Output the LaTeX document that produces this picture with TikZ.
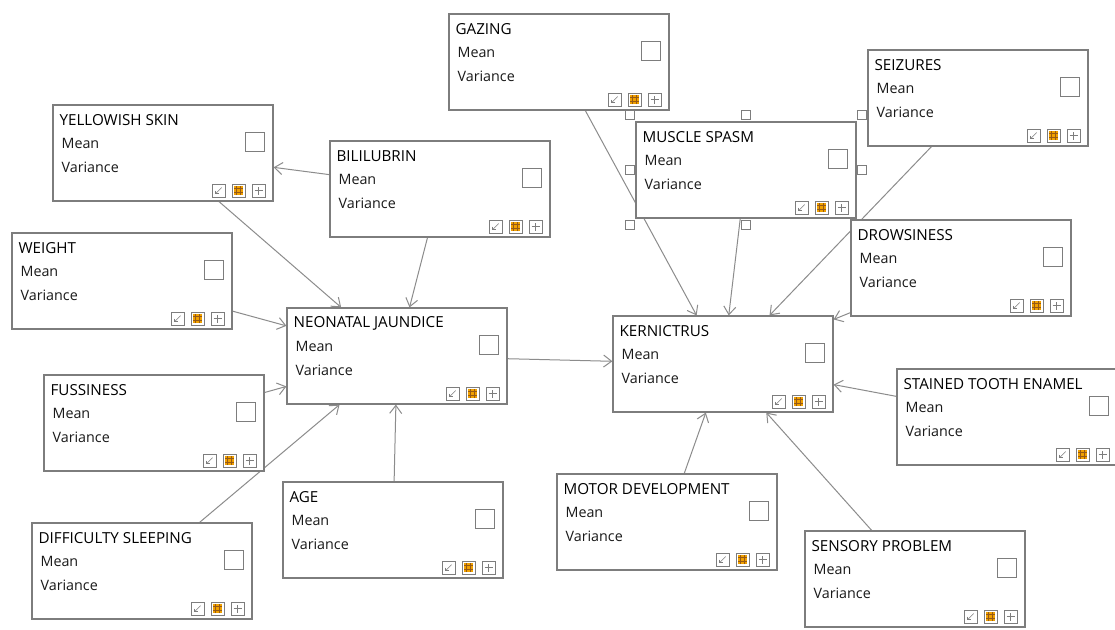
\documentclass[tikz,border=0pt]{standalone}
\usepackage{fontspec}
\setmainfont{Open Sans}
\usetikzlibrary{positioning, arrows.meta, calc, backgrounds}
\definecolor{cBox}{RGB}{125,125,125}
\definecolor{cLine}{RGB}{140,140,140}
\definecolor{cText}{RGB}{25,25,25}
\definecolor{cOrange}{RGB}{240,160,0}
\definecolor{cGrid}{RGB}{150,90,20}

\tikzset{
  varbox/.style={draw=cBox, line width=1.2pt, fill=white, rectangle,
    minimum width=220pt, minimum height=96pt, inner sep=0pt},
  vtitle/.style={anchor=west, inner sep=0pt, text=black,
    font=\fontsize{15.2}{17}\selectfont},
  vlabel/.style={anchor=west, inner sep=0pt, text=cText,
    font=\fontsize{14.3}{16}\selectfont},
  chkbox/.style={draw=cBox, line width=0.8pt, minimum size=19pt, inner sep=0pt},
  iconbox/.style={draw=cBox, line width=0.7pt, fill=white, minimum size=13pt, inner sep=0pt},
  handle/.style={draw=cBox, line width=0.7pt, fill=white, minimum size=9pt, inner sep=0pt},
  link/.style={draw=cLine, line width=1pt, -{Straight Barb[length=8pt,width=12pt]}}
}

% one variable box: name, left, top, title
\newcommand{\varnode}[4]{%
  \node[varbox] (#1) at (#2+110,#3+48) {};
  \node[vtitle] (#1-t) at ([xshift=7pt,yshift=-16pt]#1.north west) {#4};
  \node[vlabel] (#1-m) at ([xshift=9pt,yshift=-39pt]#1.north west) {Mean};
  \node[vlabel] (#1-v) at ([xshift=9pt,yshift=-63pt]#1.north west) {Variance};
  \node[chkbox] (#1-c) at ([xshift=-19pt,yshift=-37pt]#1.north east) {};
  % icons
  \node[iconbox] (#1-i1) at ([xshift=-55pt,yshift=11pt]#1.south east) {};
  \draw[cBox, line width=0.6pt] ([shift={(3pt,3pt)}]#1-i1.center) -- ([shift={(-3pt,-3pt)}]#1-i1.center);
  \draw[cBox, line width=0.6pt] ([shift={(-3pt,0pt)}]#1-i1.center) -- ([shift={(-3pt,-3pt)}]#1-i1.center) -- ([shift={(0pt,-3pt)}]#1-i1.center);
  \node[iconbox] (#1-i2) at ([xshift=-35pt,yshift=11pt]#1.south east) {};
  \fill[cOrange] ([shift={(-4.5pt,-4.5pt)}]#1-i2.center) rectangle ([shift={(4.5pt,4.5pt)}]#1-i2.center);
  \draw[cGrid, line width=0.5pt] ([shift={(-2pt,-4.5pt)}]#1-i2.center) -- ([shift={(-2pt,4.5pt)}]#1-i2.center)
    ([shift={(2pt,-4.5pt)}]#1-i2.center) -- ([shift={(2pt,4.5pt)}]#1-i2.center)
    ([shift={(-4.5pt,-2pt)}]#1-i2.center) -- ([shift={(4.5pt,-2pt)}]#1-i2.center)
    ([shift={(-4.5pt,2pt)}]#1-i2.center) -- ([shift={(4.5pt,2pt)}]#1-i2.center);
  \node[iconbox] (#1-i3) at ([xshift=-15pt,yshift=11pt]#1.south east) {};
  \draw[cBox, line width=0.6pt] ([xshift=-4pt]#1-i3.center) -- ([xshift=4pt]#1-i3.center)
    ([yshift=-4pt]#1-i3.center) -- ([yshift=4pt]#1-i3.center);
}

\begin{document}
\begin{tikzpicture}[x=1pt, y=-1pt]
    \useasboundingbox (0,0) rectangle (1115,629);

    % top row
    \varnode{gaz}{449}{14}{GAZING}
    \varnode{seiz}{868}{50}{SEIZURES}
    \varnode{ys}{53}{105}{YELLOWISH SKIN}
    \varnode{bil}{330}{141}{BILILUBRIN}
    \varnode{ms}{636}{122}{MUSCLE SPASM}

    % selection handles round muscle spasm
    \foreach \a/\dx/\dy [count=\i] in {north west/-6/7, north/0/7, north east/5/7,
        west/-6/0, east/5/0, south west/-6/-6, south/0/-6}
      \node[handle] (h\i) at ([xshift=\dx pt,yshift=\dy pt]ms.\a) {};

    \varnode{drow}{851}{220}{DROWSINESS}

    % middle row
    \varnode{wt}{12}{233}{WEIGHT}
    \varnode{nj}{287}{308}{NEONATAL JAUNDICE}
    \varnode{kern}{613}{316}{KERNICTRUS}
    \varnode{ste}{897}{369}{STAINED TOOTH ENAMEL}
    \varnode{fus}{44}{375}{FUSSINESS}

    % bottom row
    \varnode{age}{283}{482}{AGE}
    \varnode{md}{557}{474}{MOTOR DEVELOPMENT}
    \varnode{ds}{32}{523}{DIFFICULTY SLEEPING}
    \varnode{sp}{805}{531}{SENSORY PROBLEM}

    % links, behind the boxes
    \begin{scope}[on background layer]
      \fill[white] (0,0) rectangle (1115,629);
      \draw[link] (bil) -- (ys);
      \draw[link] (ys) -- (nj);
      \draw[link] (bil) -- (nj);
      \draw[link] (wt) -- (nj);
      \draw[link] (fus) -- (nj);
      \draw[link] (ds) -- (nj);
      \draw[link] (age) -- (nj);
      \draw[link] (nj) -- (kern);
      \draw[link] (gaz) -- (kern);
      \draw[link] (ms) -- (kern);
      \draw[link] (seiz) -- (kern);
      \draw[link] (drow) -- (kern);
      \draw[link] (ste) -- (kern);
      \draw[link] (md) -- (kern);
      \draw[link] (sp) -- (kern);
    \end{scope}
\end{tikzpicture}
\end{document}
